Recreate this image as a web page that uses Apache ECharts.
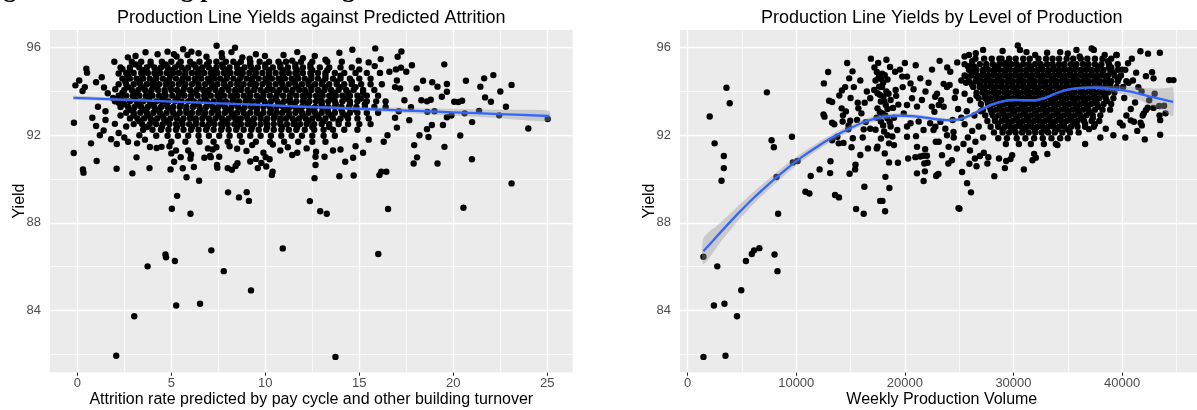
<!DOCTYPE html>
<html>
<head>
<meta charset="utf-8">
<script src="https://cdn.jsdelivr.net/npm/echarts@6/dist/echarts.min.js"></script>
<style>html,body{margin:0;padding:0;background:#fff}#c{width:1197px;height:410px}</style>
</head>
<body>
<div id="c"></div>
<script>
// ---------- DATA ----------
const yTicks = [84, 88, 92, 96];
const yMinor = [82, 86, 90, 94];
const attritionTicks = [0, 5, 10, 15, 20, 25];
const attritionMinor = [2.5, 7.5, 12.5, 17.5, 22.5];
const volumeTicks = [0, 10000, 20000, 30000, 40000];
const volumeMinor = [5000, 15000, 25000, 35000, 45000];

// Left panel: [attrition, yield] individual points
const attritionSparse = [
[2.07,81.92],[3.03,83.73],[3.74,86.01],[4.69,86.55],[4.72,86.42],[5.19,86.25],[5.26,84.22],[5.03,88.64],[5.31,89.23],[6.02,88.41],[6.53,84.30],[7.13,86.74],[7.79,85.79],[9.24,84.91],[9.13,89.0],[10.93,86.83],[12.37,88.99],[12.92,88.53],[13.27,88.41],[16.53,88.63],[20.54,88.69],[16.01,86.57],[13.73,81.87],[8.02,89.39],[8.6,89.16],[9.01,89.40],[23.1,89.8],
[-0.19,91.19],[0.30,90.44],[0.33,90.29],[1.03,90.82],[2.09,90.47],[2.93,90.26],[3.15,90.99],[3.84,90.50],[4.96,90.44],[5.15,90.79],[5.81,90.08],[6.48,89.92],[5.61,90.49],[6.02,90.93],[6.05,91.12],[6.76,90.97],[7.06,91.05],[7.43,90.64],[7.45,90.52],[8.42,90.59],[8.52,90.72],[9.79,90.73],[10.23,90.9],[10.39,90.33],[10.35,90.18],[11.43,91.1],
[3.86,91.46],[4.22,91.42],[4.48,91.47],[4.9,91.5],[5.0,91.17],[5.25,91.3],[5.5,91.0],[5.9,91.3],[6.95,91.4],[7.2,91.35],[7.4,91.45],[7.1,91.0],[7.55,91.02],[8.1,91.5],[8.5,91.38],[9.0,91.28],[9.3,91.55],[9.9,91.2],[10.4,91.58],[10.8,91.3],[11.2,91.45],[11.7,91.2],[12.2,91.4],[12.67,91.02],[13.15,91.02],[13.6,91.3],[14.25,90.79],[14.67,90.97],[9.2,90.8],[9.5,90.92],[10.02,91.0],[9.6,90.5],[10.05,90.57],[6.2,90.55],[8.0,90.5],[8.22,90.42],[12.62,90.04],[12.67,90.64],[13.94,90.13],[14.7,90.16],[16.07,90.18],[16.17,90.33],[16.44,90.33],[17.89,90.71],[18.07,90.99],[19.16,90.71],[20.99,90.9],[12.7,91.25],[14.0,91.35],[15.2,91.2],[14.8,91.5],[15.5,91.8],[16.3,91.7],
[-0.1,94.28],[0.1,94.5],[0.28,94.02],[0.48,95.04],[0.52,94.86],[0.4,94.2],[1.0,94.42],[1.3,94.65],[1.42,94.18],[1.9,93.7],[1.62,93.92],[2.2,93.48],[2.02,94.1],[1.97,95.36],[2.2,94.82],[2.4,95.02],[1.1,93.3],[1.5,93.1],
[-0.18,92.57],[0.73,91.63],[0.8,92.8],[1.0,92.42],[1.2,92.0],[1.5,92.7],[1.4,92.22],[1.8,91.82],[2.0,92.52],[2.2,92.1],[2.3,92.9],[2.5,91.9],[2.6,92.4],[2.1,91.6],[2.7,91.7],[3.18,91.63],[3.3,92.0],[3.6,91.8],
[2.69,95.56],[3.1,95.62],[3.63,95.79],[4.27,95.7],[4.8,95.82],[5.14,95.7],[5.28,95.6],[5.63,95.93],[5.86,95.67],[6.07,95.82],[6.45,95.75],[6.87,95.59],[7.41,96.09],[7.68,95.75],[7.7,95.56],[8.2,95.8],[8.39,96.0],[8.78,95.56],[9.17,95.5],[9.5,95.7],[9.98,95.62],[10.97,95.67],[11.43,95.41],[11.7,95.8],[12.0,95.52],[12.63,95.62],[13.2,95.45],[13.94,95.77],[14.63,95.91],[14.07,95.36],[14.97,95.41],[15.0,95.01],[15.5,95.33],[15.82,95.16],[15.85,95.97],[16.14,95.48],[16.95,95.01],[17.04,95.59],[17.22,95.09],[17.24,95.83],
[16.6,94.9],[17.0,94.5],[16.9,94.2],[17.17,94.14],[17.4,93.6],[17.75,93.28],[17.1,93.1],[16.9,92.8],[17.66,92.69],[17.0,92.35],[16.5,92.0],[17.92,91.55],[18.05,94.14],[18.39,94.49],[18.88,94.42],[19.16,94.22],[19.39,93.76],[19.52,95.24],[19.66,94.34],[19.66,93.99],[18.3,93.6],[18.6,93.55],[18.8,93.62],[18.62,93.07],[18.6,92.28],[18.86,92.47],[18.68,91.92],[19.45,92.47],[19.66,92.82],[19.9,92.9],[20.05,93.53],[20.27,93.52],[20.47,93.58],[20.67,94.49],[21.44,94.22],[21.64,94.6],[22.13,94.75],[21.69,93.73],[22.0,93.53],[21.37,93.11],[22.44,92.91],[23.99,92.31],[25.02,92.74],[20.37,91.99],[19.53,91.47],[17.5,94.9],[17.8,95.2],[18.2,92.0],[22.8,93.3],[23.1,94.3],[22.5,94.0],[21.0,92.6],[20.6,93.0],[19.0,93.1]
];
// Left panel dense core: [yield, [attrition values]]
const attritionCoreRows = [
[95.36,[2.9,3.4,3.9,4.5,5.0,5.5,6.0,6.5,7.0,7.4,7.9,8.3,8.7,9.2,9.7,10.2,10.7,11.1,11.9,12.5,13.3]],
[95.23,[3.1,3.9,4.7,5.4,6.2,6.9,7.7,8.5,9.2,10.0,10.8,11.6,12.4]],
[95.1,[2.3,2.8,3.3,3.7,4.1,4.45,4.8,5.2,5.55,5.9,6.3,6.65,7.0,7.4,7.75,8.1,8.5,8.9,9.25,9.6,10.0,10.4,10.8,11.2,11.6,12.0,12.4,12.9,13.4,14.0,14.6]],
[94.97,[2.8,3.55,4.3,5.0,5.75,6.5,7.25,8.0,8.7,9.45,10.2,10.95,11.7,12.5,13.3]],
[94.85,[2.6,3.0,3.4,3.75,4.1,4.4,4.75,5.1,5.4,5.75,6.1,6.4,6.75,7.1,7.45,7.8,8.15,8.5,8.8,9.15,9.5,9.85,10.2,10.55,10.9,11.25,11.6,12.0,12.4,12.8,13.2,13.7,14.2,14.8,15.4,16.1]],
[94.72,[2.7,3.45,4.2,4.95,5.7,6.45,7.2,7.95,8.7,9.45,10.2,10.95,11.7,12.45,13.2,14.0]],
[94.59,[2.4,2.8,3.15,3.5,3.85,4.2,4.55,4.9,5.25,5.6,5.9,6.25,6.6,6.95,7.3,7.6,7.95,8.3,8.65,9.0,9.3,9.65,10.0,10.35,10.7,11.05,11.4,11.75,12.1,12.45,12.8,13.2,13.6,14.0,14.5,15.0,15.6]],
[94.46,[2.55,3.3,4.05,4.8,5.55,6.3,7.05,7.8,8.55,9.3,10.05,10.8,11.55,12.3,13.05,13.8,14.6]],
[94.33,[2.2,2.6,3.0,3.35,3.7,4.0,4.35,4.7,5.05,5.4,5.75,6.1,6.45,6.8,7.15,7.45,7.8,8.15,8.5,8.85,9.2,9.5,9.85,10.2,10.55,10.9,11.25,11.6,11.95,12.3,12.65,13.0,13.4,13.8,14.2,14.6,15.1,15.6,16.2]],
[94.2,[2.7,3.45,4.2,4.95,5.7,6.45,7.2,7.95,8.7,9.45,10.2,10.95,11.7,12.45,13.2,14.0,14.8]],
[94.07,[2.5,2.9,3.25,3.6,3.95,4.3,4.65,5.0,5.3,5.65,6.0,6.35,6.7,7.0,7.35,7.7,8.05,8.4,8.7,9.05,9.4,9.75,10.1,10.4,10.75,11.1,11.45,11.8,12.1,12.45,12.8,13.15,13.5,13.9,14.3,14.7,15.2,15.8]],
[93.94,[2.4,3.15,3.9,4.65,5.4,6.15,6.9,7.65,8.4,9.15,9.9,10.65,11.4,12.15,12.9,13.65,14.4,15.2]],
[93.81,[2.2,2.6,2.95,3.3,3.65,4.0,4.35,4.7,5.05,5.4,5.7,6.05,6.4,6.75,7.1,7.45,7.8,8.15,8.5,8.85,9.2,9.55,9.9,10.25,10.6,10.95,11.3,11.65,12.0,12.35,12.7,13.05,13.4,13.75,14.1,14.5,14.9,15.4,16.0]],
[93.68,[2.3,3.05,3.8,4.55,5.3,6.05,6.8,7.55,8.3,9.05,9.8,10.55,11.3,12.05,12.8,13.55,14.3,15.1]],
[93.55,[2.0,2.4,2.8,3.15,3.5,3.85,4.2,4.5,4.85,5.2,5.55,5.9,6.2,6.55,6.9,7.25,7.6,7.9,8.25,8.6,8.95,9.3,9.6,9.95,10.3,10.65,11.0,11.3,11.65,12.0,12.35,12.7,13.0,13.35,13.7,14.1,14.5,14.9,15.4,15.9,16.4]],
[93.42,[2.5,3.25,4.0,4.75,5.5,6.25,7.0,7.75,8.5,9.25,10.0,10.75,11.5,12.25,13.0,13.75,14.5,15.3]],
[93.29,[2.3,2.7,3.05,3.4,3.75,4.1,4.45,4.8,5.1,5.45,5.8,6.15,6.5,6.85,7.2,7.5,7.85,8.2,8.55,8.9,9.25,9.55,9.9,10.25,10.6,10.95,11.3,11.6,11.95,12.3,12.65,13.0,13.35,13.7,14.05,14.45,14.85,15.3,15.8,16.4]],
[93.16,[2.8,3.55,4.3,5.05,5.8,6.55,7.3,8.05,8.8,9.55,10.3,11.05,11.8,12.55,13.3,14.05,14.8]],
[93.03,[2.6,3.0,3.35,3.7,4.05,4.4,4.75,5.1,5.45,5.8,6.1,6.45,6.8,7.15,7.5,7.85,8.2,8.5,8.85,9.2,9.55,9.9,10.25,10.6,10.9,11.25,11.6,11.95,12.3,12.65,13.0,13.35,13.7,14.1,14.5,14.9,15.4,16.0]],
[92.9,[3.0,3.75,4.5,5.25,6.0,6.75,7.5,8.25,9.0,9.75,10.5,11.25,12.0,12.75,13.5,14.3]],
[92.77,[2.8,3.2,3.55,3.9,4.25,4.6,4.95,5.3,5.65,6.0,6.3,6.65,7.0,7.35,7.7,8.05,8.4,8.7,9.05,9.4,9.75,10.1,10.45,10.8,11.1,11.45,11.8,12.15,12.5,12.85,13.2,13.6,14.0,14.4,14.9,15.5]],
[92.64,[3.3,4.05,4.8,5.55,6.3,7.05,7.8,8.55,9.3,10.05,10.8,11.55,12.3,13.1,13.9]],
[92.51,[3.0,3.45,3.85,4.2,4.55,4.9,5.25,5.6,5.95,6.3,6.65,7.0,7.3,7.65,8.0,8.35,8.7,9.05,9.4,9.75,10.1,10.45,10.8,11.15,11.5,11.85,12.2,12.6,13.0,13.4,13.9,14.4,15.0,15.6]],
[92.38,[3.7,4.5,5.3,6.1,6.9,7.7,8.5,9.3,10.1,10.9,11.7,12.5,13.4]],
[92.25,[3.5,4.0,4.45,4.85,5.25,5.65,6.05,6.45,6.85,7.25,7.65,8.05,8.45,8.85,9.25,9.65,10.05,10.45,10.85,11.25,11.65,12.1,12.6,13.1,13.6,14.2,14.9]],
[91.98,[4.2,4.8,5.35,5.9,6.45,7.0,7.55,8.1,8.65,9.2,9.75,10.3,10.85,11.4,11.95,12.5,13.1,13.7]],
[91.7,[5.0,5.75,6.5,7.25,8.0,8.75,9.5,10.25,11.0,11.75,12.5,13.2]]
];

// Right panel: [weekly volume in thousands, yield]
const volumeSparse = [
[1.455,81.87],[3.482,81.92],[1.455,86.45],[2.727,86.01],[2.418,84.22],[3.391,84.30],[4.545,83.73],[4.936,84.92],[5.364,86.25],[5.909,86.57],[6.118,86.74],[6.6,86.84],[8.0,86.55],[8.273,85.79],[3.573,94.17],[3.873,93.46],[2.027,92.86],[2.482,91.63],[3.33,91.05],[3.33,90.5],[3.118,89.92],[7.3,93.96],[7.727,91.77],[7.936,91.45],[9.6,91.93],[9.69,90.76],[10.118,90.82],[8.18,90.09],[8.33,88.41],
[11.33,90.14],[12.15,90.44],[13.15,90.81],[13.118,90.27],[10.845,89.42],[11.209,89.34],[13.573,89.27],[13.936,89.16],[14.91,90.24],[15.455,90.65],[15.42,90.44],[16.273,89.65],[15.51,88.63],[16.21,88.41],[12.936,94.89],[12.545,94.37],[14.69,95.30],[15.18,94.92],[14.873,94.6],[16.873,95.5],[13.027,93.58],[13.3,93.52],[13.964,93.82],[14.2,94.05],[14.5,94.2],[12.509,92.95],[12.6,92.85],[13.3,92.57],[13.5,92.5],[13.909,91.63],[14.35,91.65],[13.3,91.77],[13.782,91.93],[14.818,92.45],[15.09,91.45],[14.18,93.23],[14.57,93.09],[14.97,92.66],[14.3,92.91],[14.27,92.63],[14.79,92.27],[15.21,91.86],[15.66,93.49],[15.72,93.23],[16.3,93.49],[16.81,93.69],[16.21,92.27],[16.81,92.3],[16.12,91.9],[15.3,94.2],[15.9,94.5],[16.5,94.0],[16.0,93.0],[15.6,92.7],[16.4,92.6],[15.0,93.7],[16.6,91.4],[15.9,91.1],
[17.727,89.0],[17.936,89.0],[18.18,88.53],[18.209,90.1],[18.573,89.59],[18.545,90.76],[19.36,90.74],[20.3,90.94],[21.118,90.26],[21.845,90.35],[21.727,89.91],[22.936,90.17],[17.545,95.3],[18.636,95.12],[19.545,95.0],[17.42,94.89],[17.91,94.81],[17.82,94.57],[18.15,94.75],[17.18,94.07],[17.48,93.92],[17.63,94.22],[18.03,93.76],[17.79,93.54],[17.48,93.23],[18.24,93.38],[18.69,93.61],[17.94,93.0],[18.39,92.78],[17.79,92.63],[18.69,92.4],[18.09,92.17],[18.85,91.94],[18.54,91.63],[19.0,91.55],[17.48,91.48],[18.15,91.17],[17.42,91.4],[19.3,92.24],[19.15,94.07],[19.76,94.68],[20.2,94.68],[20.52,94.37],[21.42,94.6],[22.18,94.4],[20.2,91.93],[21.03,91.96],[21.12,91.47],[21.87,91.36],[21.72,91.06],[20.97,91.0],[21.42,91.03],[22.03,91.06],[21.79,90.71],[22.09,90.74],[22.85,91.7],[22.88,90.14],[19.9,93.0],[20.2,93.38],[20.66,93.69],[21.12,93.31],[21.57,93.61],[22.48,93.31],[22.79,93.76],[20.52,92.55],[21.27,92.63],[22.33,92.55],[22.64,92.24],[21.72,92.24],[20.2,92.4],
[17.3,94.5],[17.6,94.65],[18.0,94.4],[18.4,94.55],[17.9,94.2],[18.3,94.0],[17.7,93.85],[18.5,93.9],[18.1,93.55],[18.4,93.2],[17.7,93.05],[18.9,93.25],[18.2,92.9],[17.4,92.8],[18.6,92.6],[18.0,92.45],[17.3,92.25],[18.4,92.0],[17.8,91.85],[19.0,92.8],[19.4,93.4],[19.2,93.8],[19.8,94.2],[20.8,94.1],[21.9,94.0],[20.0,95.3],[21.0,95.2],[22.5,95.0],[23.2,95.4],[19.1,94.9],[18.3,95.45],[17.2,95.1],
[22.96,93.9],[23.57,94.35],[24.12,94.3],[23.88,94.2],[24.82,95.33],[24.18,94.9],[25.64,94.4],[23.33,93.6],[23.57,93.3],[22.72,93.07],[23.12,93.38],[23.27,92.61],[22.81,92.39],[23.73,92.3],[24.48,92.15],[23.88,92.0],[23.12,91.7],[24.03,91.47],[24.79,91.39],[23.42,91.09],[24.33,90.86],[23.09,90.23],[24.0,90.71],[25.27,90.32],[25.73,89.81],[26.09,89.39],[24.94,88.67],[25.03,88.64],[26.45,90.94],[26.91,91.05],[27.27,91.2],[25.94,90.7],[26.6,90.58],[27.6,90.71],[27.69,91.0],[28.67,90.94],[29.33,90.82],[29.73,90.91],[29.88,91.09],[28.24,90.13],[29.21,90.5],[30.96,90.44],[31.75,90.86],[32.06,90.97],[31.9,91.15],[33.12,91.14],[34.05,91.55],[36.6,91.6],[36.96,92.28],
[25.5,95.6],[25.9,95.67],[26.2,95.38],[25.8,95.15],[26.5,95.0],[25.6,94.7],[26.2,94.3],[26.8,94.5],[25.5,93.9],[26.0,93.6],[26.6,93.8],[27.2,94.07],[25.7,93.1],[26.4,92.9],[27.0,93.1],[25.5,92.5],[26.2,92.2],[26.8,92.4],[25.8,91.9],[26.5,91.7],[27.2,91.9],[24.6,93.7],[24.9,93.2],[25.2,92.8],[24.4,92.7],[24.7,94.0],[25.2,94.5],[23.9,95.1],[24.5,91.9],[25.4,91.6],[26.0,91.3],
[30.4,96.1],[30.6,95.9],[32.0,95.67],[33.1,95.77],[34.3,95.8],[35.0,95.74],[36.1,95.6],[37.2,95.97],[37.4,95.9],[38.4,95.67],[39.5,95.67],[38.7,95.38],[27.2,95.9],[26.53,95.75],[28.7,95.5],[29.33,95.3],[31.2,95.8],[29.0,95.85],[35.8,95.9],
[41.69,95.84],[42.39,95.73],[43.48,95.77],[44.33,94.52],[44.73,94.52],[42.09,91.81],[43.51,92.02],[43.45,92.91],[43.51,92.69],[43.42,93.34],[43.87,93.35],[41.82,92.45],[41.7,92.57],[41.09,92.62],[40.8,92.68],[40.06,92.45],[39.8,92.57],[42.0,93.0],[42.2,93.15],[41.9,92.9],[42.36,93.26],[42.9,93.25],[42.76,94.88],[41.3,94.86],[40.55,95.29],[39.48,95.67],[40.0,95.0],[41.0,94.5],[42.2,94.7],[40.6,94.4],[41.5,94.2],[42.9,94.6],[40.2,93.7],[41.2,93.5],[40.8,93.2],[42.5,93.6],[43.0,93.9],[44.0,93.0],[40.4,92.9],[41.4,92.2],[40.3,91.9],[39.2,92.0],[38.5,92.3],[38.0,91.9],[37.5,92.5],[39.0,95.1],[40.9,95.5],[41.8,94.0],[39.7,94.6]
];
// Right panel dense core: [yield, [volume in thousands]]
const volumeCoreRows = [
[95.5,[26.5,27.3,28.0,28.9,29.6,30.2,30.9,31.5,32.3,33.0,33.6,34.2,34.9,35.5,36.2,36.8,37.5,38.2,39.0]],
[95.25,[25.5,26.2,26.9,27.5,28.1,28.7,29.2,29.8,30.3,30.9,31.4,32.0,32.5,33.1,33.6,34.2,34.7,35.3,35.8,36.4,36.9,37.5,38.1,38.8,39.6]],
[95.12,[26.4,27.5,28.5,29.5,30.6,31.6,32.6,33.7,34.7,35.7,36.7,37.8,38.8]],
[94.99,[25.9,26.6,27.2,27.7,28.2,28.7,29.2,29.7,30.2,30.7,31.2,31.7,32.2,32.7,33.2,33.7,34.2,34.7,35.2,35.7,36.2,36.7,37.2,37.7,38.3,38.9,39.6,40.3]],
[94.86,[26.2,27.2,28.2,29.2,30.2,31.2,32.2,33.2,34.2,35.2,36.2,37.2,38.2,39.2]],
[94.73,[25.5,26.1,26.7,27.2,27.7,28.2,28.7,29.2,29.7,30.2,30.7,31.2,31.7,32.2,32.7,33.2,33.7,34.2,34.7,35.2,35.7,36.2,36.7,37.2,37.7,38.2,38.7,39.3,39.9]],
[94.6,[26.6,27.6,28.6,29.6,30.6,31.6,32.6,33.6,34.6,35.6,36.6,37.6,38.6,39.6]],
[94.47,[25.9,26.5,27.0,27.45,27.95,28.45,28.95,29.45,29.95,30.45,30.95,31.45,31.95,32.45,32.95,33.45,33.95,34.45,34.95,35.45,35.95,36.45,36.95,37.45,37.95,38.45,39.0,39.6,40.4]],
[94.34,[26.9,27.9,28.9,29.9,30.9,31.9,32.9,33.9,34.9,35.9,36.9,37.9,38.9]],
[94.21,[26.3,26.9,27.4,27.9,28.4,28.9,29.4,29.9,30.4,30.9,31.4,31.9,32.4,32.9,33.4,33.9,34.4,34.9,35.4,35.9,36.4,36.9,37.4,37.9,38.4,38.9,39.5,40.1]],
[94.08,[27.2,28.2,29.2,30.2,31.2,32.2,33.2,34.2,35.2,36.2,37.2,38.2,39.2]],
[93.95,[26.6,27.15,27.65,28.15,28.65,29.15,29.65,30.15,30.65,31.15,31.65,32.15,32.65,33.15,33.65,34.15,34.65,35.15,35.65,36.15,36.65,37.15,37.65,38.15,38.7,39.3]],
[93.82,[27.4,28.4,29.4,30.4,31.4,32.4,33.4,34.4,35.4,36.4,37.4,38.4]],
[93.69,[26.8,27.4,27.9,28.4,28.9,29.4,29.9,30.4,30.9,31.4,31.9,32.4,32.9,33.4,33.9,34.4,34.9,35.4,35.9,36.4,36.9,37.4,37.9,38.5,39.2]],
[93.56,[27.6,28.6,29.6,30.6,31.6,32.6,33.6,34.6,35.6,36.6,37.6,38.6]],
[93.43,[27.0,27.65,28.15,28.65,29.15,29.65,30.15,30.65,31.15,31.65,32.15,32.65,33.15,33.65,34.15,34.65,35.15,35.65,36.15,36.65,37.15,37.7,38.3,39.0]],
[93.3,[27.8,28.8,29.8,30.8,31.8,32.8,33.8,34.8,35.8,36.8,37.8]],
[93.17,[27.2,27.9,28.4,28.9,29.4,29.9,30.4,30.9,31.4,31.9,32.4,32.9,33.4,33.9,34.4,34.9,35.4,35.9,36.4,36.9,37.5,38.2,38.9]],
[93.04,[28.0,29.0,30.0,31.0,32.0,33.0,34.0,35.0,36.0,37.0]],
[92.91,[27.4,28.1,28.65,29.15,29.65,30.15,30.65,31.15,31.65,32.15,32.65,33.15,33.65,34.15,34.65,35.15,35.65,36.15,36.7,37.3,38.0]],
[92.78,[28.3,29.3,30.3,31.3,32.3,33.3,34.3,35.3,36.3,37.3]],
[92.65,[27.6,28.3,28.9,29.4,29.9,30.4,30.9,31.4,31.9,32.4,32.9,33.4,33.9,34.4,34.9,35.4,35.9,36.5,37.2,37.9]],
[92.52,[28.6,29.6,30.6,31.6,32.6,33.6,34.6,35.6,36.6]],
[92.39,[27.9,28.6,29.2,29.7,30.2,30.7,31.2,31.7,32.2,32.7,33.2,33.7,34.2,34.7,35.3,35.9,36.6,37.4]],
[92.26,[29.0,30.0,31.0,32.0,33.0,34.0,35.0]],
[92.13,[28.2,29.0,29.6,30.2,30.8,31.4,32.0,32.6,33.2,33.8,34.5,35.2,36.0]],
[91.86,[28.6,29.4,30.3,31.1,31.9,32.7,33.5,34.3,35.0]],
[91.6,[29.3,30.5,31.6,32.8,33.9]]
];

// Smoothers (fit and half-width of 95% band)
const attritionFitX = [-0.2, 2.5, 5, 7.5, 10, 12.5, 15, 17.5, 20, 22.5, 25.1];
const attritionFit  = [93.71, 93.62, 93.54, 93.46, 93.38, 93.29, 93.21, 93.13, 93.05, 92.97, 92.88];
const attritionSE   = [0.09, 0.06, 0.045, 0.04, 0.045, 0.06, 0.09, 0.12, 0.16, 0.19, 0.23];
const volumeFitX = [1.45, 3, 4.5, 6, 7.5, 9, 10.5, 12, 13.5, 15, 16.5, 18, 19.5, 21, 22.5, 24, 25, 26, 27, 28, 29, 30, 31, 32, 33, 34, 35, 36, 37, 38, 39, 40, 41, 42, 43, 44, 44.7];
const volumeFit  = [86.7, 87.55, 88.35, 89.1, 89.78, 90.42, 91.0, 91.5, 91.95, 92.33, 92.65, 92.84, 92.9, 92.86, 92.76, 92.69, 92.73, 92.9, 93.17, 93.4, 93.55, 93.61, 93.6, 93.6, 93.72, 93.93, 94.08, 94.15, 94.18, 94.17, 94.12, 94.06, 93.97, 93.84, 93.72, 93.6, 93.53];
const volumeSE   = [0.6, 0.45, 0.35, 0.28, 0.24, 0.22, 0.19, 0.17, 0.15, 0.14, 0.13, 0.12, 0.11, 0.1, 0.09, 0.08, 0.08, 0.08, 0.07, 0.07, 0.06, 0.06, 0.06, 0.06, 0.06, 0.06, 0.06, 0.07, 0.08, 0.1, 0.13, 0.18, 0.25, 0.32, 0.42, 0.55, 0.65];

// ---------- BUILD ----------
const FONT = '"Liberation Sans", Arial, Helvetica, sans-serif';
function expand(sparse, rows, scale) {
  const out = sparse.map(p => [p[0] * scale, p[1]]);
  rows.forEach(r => r[1].forEach(x => out.push([x * scale, r[0]])));
  return out;
}
const leftPts = expand(attritionSparse, attritionCoreRows, 1);
const rightPts = expand(volumeSparse, volumeCoreRows, 1000);

function gridLines(xMaj, xMin, yMaj, yMin) {
  const maj = { color: '#FFFFFF', width: 1.4, type: 'solid' };
  const min = { color: '#FFFFFF', width: 0.7, type: 'solid' };
  const d = [];
  xMin.forEach(v => d.push({ xAxis: v, lineStyle: min }));
  yMin.forEach(v => d.push({ yAxis: v, lineStyle: min }));
  xMaj.forEach(v => d.push({ xAxis: v, lineStyle: maj }));
  yMaj.forEach(v => d.push({ yAxis: v, lineStyle: maj }));
  return { silent: true, symbol: ['none', 'none'], label: { show: false }, animation: false, data: d, emphasis: { disabled: true } };
}
function scatter(idx, pts, grid) {
  return { type: 'scatter', xAxisIndex: idx, yAxisIndex: idx, data: pts, symbol: 'circle', symbolSize: 6.4,
    itemStyle: { color: '#000000', opacity: 1 }, z: 10, silent: true, animation: false, large: false, progressive: 0, markLine: grid };
}
function band(idx, xs, fit, se, scale) {
  const data = xs.map((x, i) => [x * scale, fit[i] - se[i], fit[i] + se[i]]);
  return { type: 'custom', xAxisIndex: idx, yAxisIndex: idx, z: 11, silent: true, animation: false,
    data: data, encode: { x: 0, y: [1, 2] },
    renderItem: function (params, api) {
      if (params.dataIndex !== 0) return;
      const up = data.map(d => api.coord([d[0], d[2]]));
      const lo = data.map(d => api.coord([d[0], d[1]])).reverse();
      return { type: 'polygon', shape: { points: up.concat(lo), smooth: 0.2 }, style: { fill: 'rgba(153,153,153,0.4)' } };
    } };
}
function fitLine(idx, xs, fit, scale) {
  return { type: 'line', xAxisIndex: idx, yAxisIndex: idx, data: xs.map((x, i) => [x * scale, fit[i]]),
    showSymbol: false, symbol: 'none', smooth: 0.3, z: 12, silent: true, animation: false,
    lineStyle: { color: '#3366FF', width: 2.3 } };
}
function xAxis(idx, min, max, ticks) {
  return { type: 'value', gridIndex: idx, min: min, max: max, splitLine: { show: false },
    axisLine: { show: false },
    axisTick: { show: true, customValues: ticks, length: 3.5, lineStyle: { color: '#333333', width: 1 } },
    axisLabel: { customValues: ticks, margin: 5, color: '#4D4D4D', fontSize: 13, fontFamily: FONT, formatter: v => String(v) } };
}
function yAxis(idx) {
  return { type: 'value', gridIndex: idx, min: 81.167, max: 96.81, splitLine: { show: false },
    axisLine: { show: false },
    axisTick: { show: true, customValues: yTicks, length: 3.5, lineStyle: { color: '#333333', width: 1 } },
    axisLabel: { customValues: yTicks, margin: 9, color: '#4D4D4D', fontSize: 13, fontFamily: FONT, formatter: v => String(v) } };
}
function txt(x, y, s, size, opts) {
  return Object.assign({ type: 'text', x: x, y: y, silent: true, z: 100,
    style: { text: s, fill: '#000000', font: size + 'px ' + FONT, textAlign: 'center', textVerticalAlign: 'middle', align: 'center', verticalAlign: 'middle' } }, opts || {});
}

const chart = echarts.init(document.getElementById('c'), null, { renderer: 'canvas' });
chart.setOption({
  backgroundColor: '#FFFFFF',
  animation: false,
  grid: [
    { left: 50, top: 30, width: 522.7, height: 342.3, show: true, backgroundColor: '#EBEBEB', borderWidth: 0, containLabel: false },
    { left: 680, top: 30, width: 523.7, height: 342.3, show: true, backgroundColor: '#EBEBEB', borderWidth: 0, containLabel: false }
  ],
  xAxis: [xAxis(0, -1.452, 26.351, attritionTicks), xAxis(1, -705, 46900, volumeTicks)],
  yAxis: [yAxis(0), yAxis(1)],
  series: [
    scatter(0, leftPts, gridLines(attritionTicks, attritionMinor, yTicks, yMinor)),
    band(0, attritionFitX, attritionFit, attritionSE, 1),
    fitLine(0, attritionFitX, attritionFit, 1),
    scatter(1, rightPts, gridLines(volumeTicks, volumeMinor, yTicks, yMinor)),
    band(1, volumeFitX, volumeFit, volumeSE, 1000),
    fitLine(1, volumeFitX, volumeFit, 1000)
  ],
  graphic: [
    { type: 'text', x: -19.6, y: -9.4, silent: true, z: 100,
      style: { text: 'Figure 1: Modeling production against', fill: '#000000', font: 'bold 26px "Liberation Serif", "Times New Roman", serif', textAlign: 'left', textVerticalAlign: 'middle', align: 'left', verticalAlign: 'middle' } },
    txt(311.3, 17.6, 'Production Line Yields against Predicted Attrition', 18),
    txt(941.8, 17.6, 'Production Line Yields by Level of Production', 18),
    txt(19.3, 201, 'Yield', 16, { rotation: Math.PI / 2 }),
    txt(649.3, 201, 'Yield', 16, { rotation: Math.PI / 2 }),
    txt(311.3, 399.7, 'Attrition rate predicted by pay cycle and other building turnover', 16),
    txt(941.8, 399.7, 'Weekly Production Volume', 16)
  ]
});
</script>
</body>
</html>
